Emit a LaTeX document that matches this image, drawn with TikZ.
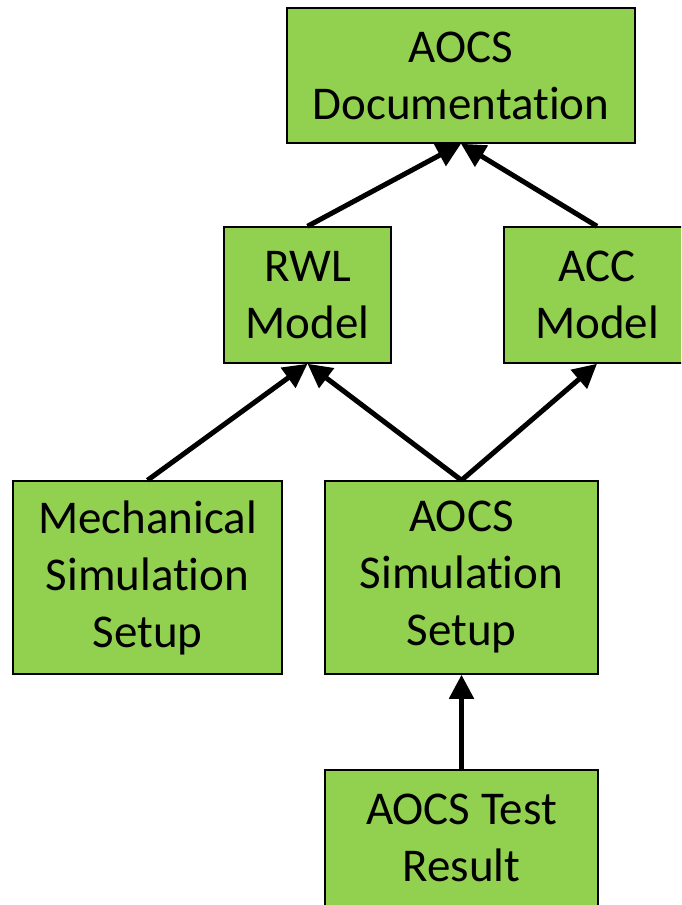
\documentclass[tikz,border=0pt]{standalone}
\usepackage{fontspec}
\setmainfont{Carlito}[Ligatures=NoCommon]
\usetikzlibrary{arrows.meta, positioning}

\definecolor{boxgreen}{HTML}{92D050}

\begin{document}
\begin{tikzpicture}[
  x=1pt, y=-1pt,
  box/.style={draw, line width=1.5pt, fill=boxgreen, inner sep=0pt, align=center,
    font=\fontsize{47}{57}\selectfont},
  link/.style={line width=5pt, -{Triangle[length=24pt,width=24pt]}}
]
  \useasboundingbox (0,0) rectangle (681,905);
  \clip (0,0) rectangle (681,905);

  % Top
  \node[box, minimum width=348pt, minimum height=135pt] (doc) at (461,75.5) {AOCS\\Documentation};

  % Models
  \node[box, minimum width=167pt, minimum height=136pt] (rwl) at (307.5,295) {RWL\\Model};
  \node[box, minimum width=186pt, minimum height=136pt] (acc) at (597,295) {ACC\\Model};

  % Simulation setups
  \node[box, minimum width=269pt, minimum height=193pt] (mech) at (147.5,577.5) {Mechanical\\Simulation\\Setup};
  \node[box, minimum width=273pt, minimum height=193pt] (sim) at (461.5,577.5) {AOCS\\Simulation\\Setup};

  % Test result (runs off the bottom)
  \node[box, minimum width=273pt, minimum height=150pt] (test) at (461.5,845) {};
  \node[font=\fontsize{47}{57}\selectfont, align=center, anchor=north] (testtxt) at (461.5,790) {AOCS Test\\Result};

  % Arrows
  \draw[link] (rwl.north) -- (doc.south);
  \draw[link] (acc.north) -- (doc.south);
  \draw[link] (mech.north) -- (rwl.south);
  \draw[link] (sim.north) -- (rwl.south);
  \draw[link] (sim.north) -- (acc.south);
  \draw[link] (test.north) -- (sim.south);
\end{tikzpicture}
\end{document}
